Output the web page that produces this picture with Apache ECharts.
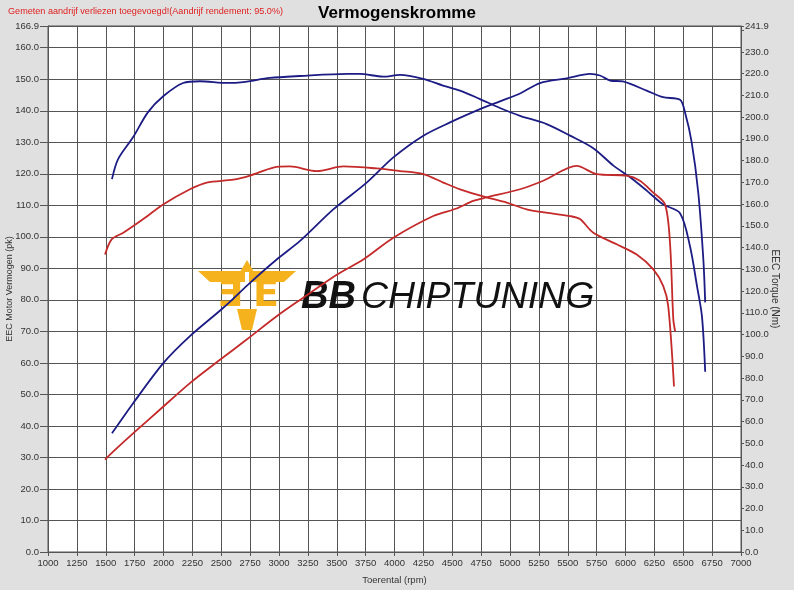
<!DOCTYPE html>
<html>
<head>
<meta charset="utf-8">
<script src="https://cdn.jsdelivr.net/npm/echarts@6/dist/echarts.min.js"></script>
<style>html,body{margin:0;padding:0;background:#e0e0e0;}#c{width:794px;height:590px;}</style>
</head>
<body>
<div id="c"></div>
<script>
var titleText = 'Vermogenskromme';
var noteText = 'Gemeten aandrijf verliezen toegevoegd!(Aandrijf rendement: 95.0%)';
var xName = 'Toerental (rpm)';
var leftName = 'EEC Motor Vermogen (pk)';
var rightName = 'EEC Torque (Nm)';

// Tuned power (pk) [rpm, pk]
var powerTuned = [[1554,37.7],[1739,47.3],[2000,60.0],[2229,68.5],[2518,77.5],[2749,85.4],[2980,92.8],[3182,98.7],[3470,108.7],[3759,117.2],[3990,125.2],[4250,132.1],[4481,136.3],[4740,140.5],[4913,143.0],[5087,145.5],[5260,148.8],[5491,150.3],[5693,151.7],[5779,151.2],[5866,149.6],[5978,149.3],[6183,146.4],[6325,144.3],[6472,143.5],[6515,139.5],[6573,130.0],[6630,114.0],[6674,92.8],[6690,79.2]];
// Tuned torque (Nm)
var torqueTuned = [[1554,171.5],[1606,180.6],[1736,190.7],[1866,202.3],[2000,209.7],[2170,215.7],[2316,216.5],[2550,215.7],[2690,216.1],[2922,218.0],[3180,218.9],[3589,219.9],[3700,219.9],[3900,218.6],[4048,219.4],[4247,217.6],[4420,214.5],[4567,212.2],[4740,208.3],[4913,204.2],[5087,200.6],[5317,196.8],[5520,191.5],[5721,185.7],[5893,177.8],[6040,172.3],[6186,166.1],[6325,159.9],[6472,155.8],[6558,140.7],[6619,122.3],[6662,108.4],[6690,82.9]];
// Stock power (pk)
var powerStock = [[1494,29.3],[1566,31.9],[1739,37.7],[1970,45.2],[2229,53.6],[2489,61.0],[2720,67.4],[2980,74.8],[3210,80.7],[3500,88.0],[3730,92.8],[3990,99.7],[4336,106.6],[4538,109.0],[4682,111.4],[4798,112.5],[5087,115.1],[5288,117.8],[5577,122.5],[5750,119.9],[6010,119.4],[6125,117.8],[6241,114.0],[6342,110.3],[6385,98.2],[6414,73.8],[6430,70.0]];
// Stock torque (Nm)
var torqueStock = [[1494,136.8],[1551,143.8],[1652,146.8],[1825,153.1],[2000,159.9],[2229,166.8],[2374,169.9],[2604,171.2],[2749,173.1],[2951,176.8],[3095,177.3],[3327,175.2],[3557,177.3],[3846,176.4],[4048,175.2],[4250,173.8],[4422,169.9],[4567,166.8],[4798,163.1],[4971,160.7],[5144,157.6],[5346,155.8],[5520,154.5],[5606,153.1],[5721,146.8],[5924,141.5],[6097,136.8],[6241,130.0],[6327,122.3],[6370,113.1],[6420,76.1]];

var chart = echarts.init(document.getElementById('c'));
var blue = '#1c1c84';
var red = '#c42a2a';
var lbl = {color:'#333', fontFamily:'Liberation Sans, Arial', fontSize:9.5};

function mkLine(name, data, color, yi){
  return {name:name, type:'line', yAxisIndex:yi, data:data, showSymbol:false, smooth:0.3,
    lineStyle:{color:color, width:1.8}, itemStyle:{color:color}, z:5};
}

chart.setOption({
  backgroundColor:'#e0e0e0',
  animation:false,
  title:[
    {text:titleText, left:'center', top:0, textStyle:{fontFamily:'Liberation Sans, Arial', fontWeight:'bold', fontSize:17, color:'#000'}},
    {text:noteText, left:3, top:2, textStyle:{fontFamily:'Liberation Sans, Arial', fontWeight:'normal', fontSize:9.1, color:'#e02020'}}
  ],
  grid:{left:48, right:53, top:26, bottom:38, containLabel:false, outerBoundsMode:'none', show:true, backgroundColor:'#ffffff', borderColor:'#555', borderWidth:1},
  xAxis:{type:'value', min:1000, max:7000, interval:250, name:xName, nameLocation:'middle', nameGap:23, nameMoveOverlap:false,
    nameTextStyle:{color:'#333', fontFamily:'Liberation Sans, Arial', fontSize:9.5},
    axisLine:{lineStyle:{color:'#555'}}, axisTick:{show:true, inside:false, length:4, lineStyle:{color:'#555'}},
    axisLabel:Object.assign({margin:6, formatter:function(v){return String(v);}}, lbl),
    splitLine:{show:true, lineStyle:{color:'#555', width:1}}},
  yAxis:[
    {type:'value', min:0, max:166.9, interval:10, position:'left', name:leftName, nameLocation:'middle', nameGap:34, nameMoveOverlap:false,
      nameTextStyle:{color:'#333', fontFamily:'Liberation Sans, Arial', fontSize:9},
      axisLine:{show:true, lineStyle:{color:'#555'}}, axisTick:{show:true, inside:false, length:8, lineStyle:{color:'#555'}},
      axisLabel:Object.assign({inside:false, margin:9, formatter:function(v){return v.toFixed(1);}}, lbl),
      splitLine:{show:true, lineStyle:{color:'#555', width:1}}},
    {type:'value', min:0, max:241.9, interval:10, position:'right', name:rightName, nameLocation:'middle', nameGap:29, nameRotate:-90, nameMoveOverlap:false,
      nameTextStyle:{color:'#333', fontFamily:'Liberation Sans, Arial', fontSize:10},
      axisLine:{show:true, lineStyle:{color:'#555'}}, axisTick:{show:true, inside:false, length:3, lineStyle:{color:'#555'}},
      axisLabel:Object.assign({inside:false, margin:4, formatter:function(v){return (v>=239.9 && v<241)?'':v.toFixed(1);}}, lbl),
      splitLine:{show:false}}
  ],
  graphic:[
    // emblem
    {type:'polygon', z:1, shape:{points:[[247,260],[240,272],[254,272]]}, style:{fill:'#f6b21c'}},
    {type:'polygon', z:1, shape:{points:[[198,271],[245,271],[245,282],[210,282]]}, style:{fill:'#f6b21c'}},
    {type:'polygon', z:1, shape:{points:[[249,271],[296,271],[284,282],[249,282]]}, style:{fill:'#f6b21c'}},
    {type:'text', z:1, style:{text:'Ǝ', x:230, y:296, align:'center', verticalAlign:'middle', fill:'#f6b21c', font:'bold 38px "DejaVu Sans"'}},
    {type:'text', z:1, style:{text:'E', x:266, y:296, align:'center', verticalAlign:'middle', fill:'#f6b21c', font:'bold 38px "DejaVu Sans"'}},
    {type:'polygon', z:1, shape:{points:[[237,309],[257,309],[252,330],[242,330]]}, style:{fill:'#f6b21c'}},
    // wordmark
    {type:'text', z:1, style:{text:'BB', x:301, y:298, verticalAlign:'middle', fill:'#111', font:'italic bold 38px "Liberation Sans"'}},
    {type:'text', z:1, style:{text:'CHIPTUNING', x:361, y:298, verticalAlign:'middle', fill:'#111', font:'italic 300 37.5px "Liberation Sans"'}}
  ],
  series:[
    mkLine('Vermogen getuned', powerTuned, blue, 0),
    mkLine('Koppel getuned', torqueTuned, blue, 1),
    mkLine('Vermogen origineel', powerStock, red, 0),
    mkLine('Koppel origineel', torqueStock, red, 1)
  ]
});
</script>
</body>
</html>
